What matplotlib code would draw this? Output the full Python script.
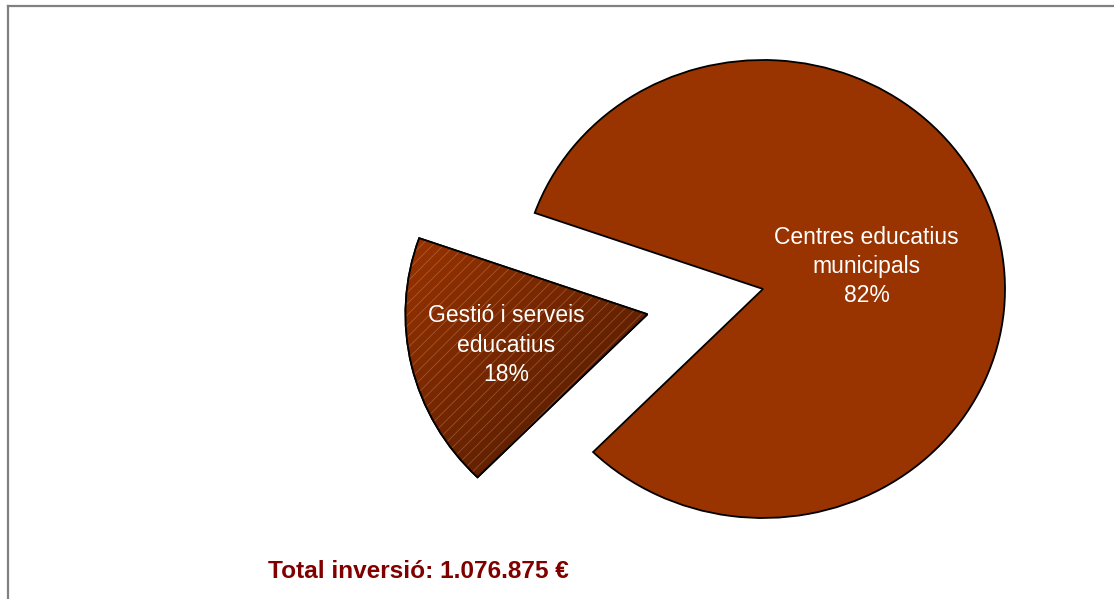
import numpy as np
import matplotlib
matplotlib.use("Agg")
import matplotlib.pyplot as plt
from matplotlib.patches import Wedge
from matplotlib.lines import Line2D
from matplotlib.colors import LinearSegmentedColormap

plt.rcParams['font.family'] = ['Liberation Sans', 'DejaVu Sans']
plt.rcParams['hatch.linewidth'] = 0.5

# dades
categories = ["Gestió i serveis\neducatius", "Centres educatius\nmunicipals"]
percentatges = [18, 82]
total_text = "Total inversió: 1.076.875 €"

fig = plt.figure(figsize=(11.14, 5.99), dpi=100)
ax = fig.add_axes([0, 0, 1, 1])

wedges, _ = ax.pie(percentatges, explode=[0.49, 0], colors=['#993300', '#993300'],
                   startangle=160.6, counterclock=True, radius=1,
                   wedgeprops=dict(edgecolor='black', linewidth=1.3))

# degradat + ratllat de la porció petita
w = wedges[0]
cx, cy = w.center
xs = np.linspace(cx - 1, cx + 1, 300)
ys = np.linspace(cy - 1, cy + 1, 300)
X, Y = np.meshgrid(xs, ys)
p = ((X - cx) - (Y - cy)) / np.sqrt(2)
t = np.clip((p + 0.95) / 0.95, 0, 1)
cmap = LinearSegmentedColormap.from_list('grad', ['#993300', '#642100'])
im = ax.imshow(t, extent=[cx - 1, cx + 1, cy - 1, cy + 1], origin='lower',
               cmap=cmap, aspect='auto', zorder=2, interpolation='bilinear')
im.set_clip_path(w)

hatch_w = Wedge((cx, cy), 1, w.theta1, w.theta2, facecolor='none',
                edgecolor=(1, 0.85, 0.75, 0.3), linewidth=0, hatch='///', zorder=3)
ax.add_patch(hatch_w)
edge_w = Wedge((cx, cy), 1, w.theta1, w.theta2, facecolor='none',
               edgecolor='black', linewidth=1.3, zorder=4)
ax.add_patch(edge_w)

# etiquetes
dists = [0.60, 0.44]
for wd, cat, pc, d in zip(wedges, categories, percentatges, dists):
    th = np.deg2rad((wd.theta1 + wd.theta2) / 2)
    x0, y0 = wd.center
    ax.text(x0 + d * np.cos(th), y0 + d * np.sin(th), f"{cat}\n{pc}%",
            ha='center', va='center', color='white', fontsize=16.5,
            linespacing=1.35, zorder=5)

ax.set_aspect('auto')
ax.set_xlim(-763 / 242, 351 / 242)
ax.set_ylim(-310 / 229, 289 / 229)
ax.axis('off')

# vora
fig.add_artist(Line2D([8 / 1114, 8 / 1114], [0, 1 - 6 / 599], color='#808080',
                      linewidth=1.6, transform=fig.transFigure))
fig.add_artist(Line2D([8 / 1114, 1], [1 - 6 / 599, 1 - 6 / 599], color='#808080',
                      linewidth=1.6, transform=fig.transFigure))

fig.text(268 / 1114, (599 - 578) / 599, total_text, ha='left', va='baseline',
         color='#800000', fontsize=17.6, fontweight='bold')

fig.savefig('out.png', dpi=100)
